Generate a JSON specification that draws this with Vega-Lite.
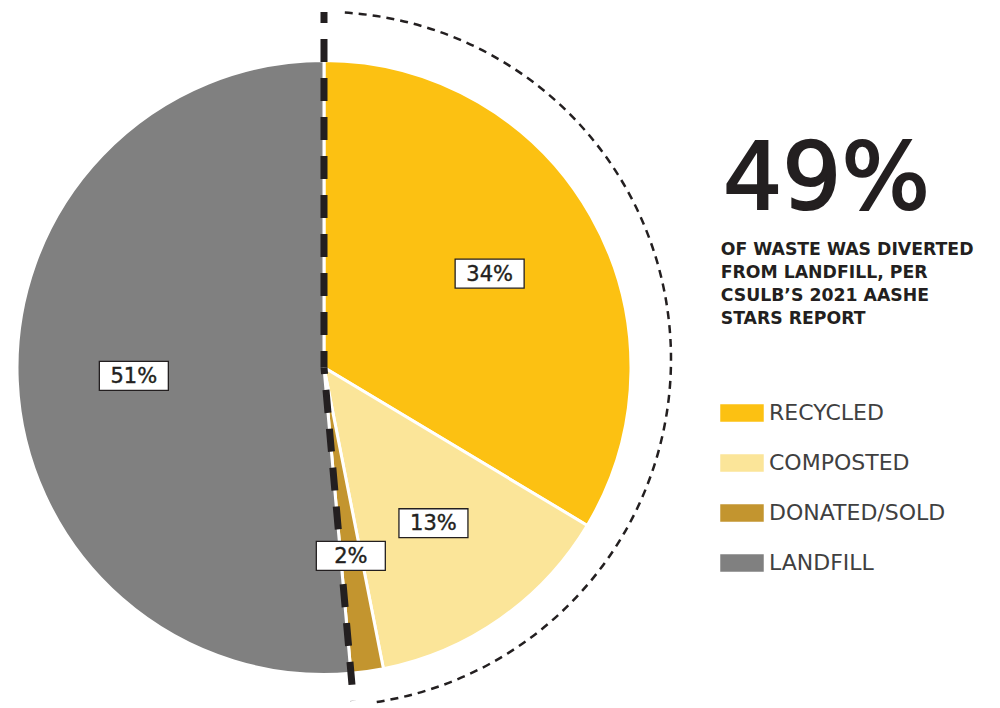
{
  "$schema": "https://vega.github.io/schema/vega-lite/v6.json",
  "width": 1000,
  "height": 708,
  "padding": 0,
  "autosize": "none",
  "background": "white",
  "config": {"view": {"stroke": null}, "font": "DejaVu Sans"},
  "data": {
    "values": [
      {"category": "RECYCLED", "pct": 33.6, "order": 1, "stream": "Diverted"},
      {"category": "COMPOSTED", "pct": 13.3, "order": 2, "stream": "Diverted"},
      {"category": "DONATED/SOLD", "pct": 1.7, "order": 3, "stream": "Diverted"},
      {"category": "LANDFILL", "pct": 51.4, "order": 4, "stream": "Landfill"}
    ]
  },
  "transform": [
    {"window": [{"op": "sum", "field": "pct", "as": "cum"}], "sort": [{"field": "order"}], "frame": [null, 0]},
    {"calculate": "datum.cum - datum.pct", "as": "start"},
    {"calculate": "datum.cum - datum.pct / 2", "as": "mid"}
  ],
  "layer": [
    {
      "mark": {"type": "arc", "outerRadius": 307, "stroke": "white", "strokeWidth": 3},
      "encoding": {
        "x": {"datum": 0, "type": "quantitative", "scale": {"domain": [-1.05537, 2.20195], "nice": false, "zero": false}, "axis": null},
        "y": {"datum": 0, "type": "quantitative", "scale": {"domain": [-1.10912, 1.19707], "nice": false, "zero": false}, "axis": null},
        "theta": {"field": "start", "type": "quantitative", "scale": {"domain": [0, 100]}},
        "theta2": {"field": "cum"},
        "color": {
          "field": "category",
          "type": "nominal",
          "scale": {
            "domain": ["RECYCLED", "COMPOSTED", "DONATED/SOLD", "LANDFILL"],
            "range": ["#FCC112", "#FBE599", "#C3952F", "#808080"]
          },
          "legend": {
            "orient": "none",
            "legendX": 720,
            "legendY": 391,
            "title": null,
            "symbolType": "M-1,-0.4H1V0.4H-1Z",
            "symbolSize": 1892,
            "symbolStrokeWidth": 0,
            "symbolOpacity": 1,
            "labelFont": "DejaVu Sans",
            "labelFontSize": 22,
            "labelColor": "#404040",
            "labelOffset": 5,
            "rowPadding": 17,
            "labelLimit": 300
          }
        }
      }
    },
    {
      "transform": [
        {"filter": "datum.stream === 'Diverted'"},
        {"aggregate": [{"op": "min", "field": "start", "as": "s0"}, {"op": "max", "field": "cum", "as": "s1"}]}
      ],
      "mark": {
        "type": "arc",
        "outerRadius": 347,
        "innerRadius": 0,
        "padAngle": 0.12,
        "fill": "white",
        "fillOpacity": 0,
        "stroke": "#231f20",
        "strokeWidth": 2.5,
        "strokeDash": [
          8,6,8,6,8,6,8,6,8,6,8,6,8,6,8,6,8,6,8,6,8,6,8,6,
          8,6,8,6,8,6,8,6,8,6,8,6,8,6,8,6,8,6,8,6,8,6,8,6,
          8,6,8,6,8,6,8,6,8,6,8,6,8,6,8,6,8,6,8,6,8,6,8,6,
          8,6,8,6,8,6,8,6,8,6,8,6,8,6,8,6,8,6,8,6,8,6,8,6,
          8,6,8,6,8,6,8,6,8,6,8,6,8,6,8,6,8,6,8,6,8,6,8,6,
          8,6,8,6,8,6,8,6,8,6,8,6,8,6,8,6,8,6,8,6,8,6,8,6,
          8,3000
        ]
      },
      "encoding": {
        "x": {"datum": 0, "type": "quantitative", "scale": {"domain": [-1.05537, 2.20195], "nice": false, "zero": false}, "axis": null},
        "y": {"datum": 0.0277, "type": "quantitative", "scale": {"domain": [-1.10912, 1.19707], "nice": false, "zero": false}, "axis": null},
        "theta": {"field": "s0", "type": "quantitative", "scale": {"domain": [0, 100]}},
        "theta2": {"field": "s1"}
      }
    },
    {
      "transform": [
        {"filter": "datum.stream === 'Landfill'"},
        {"calculate": "0", "as": "cx"},
        {"calculate": "1.158 * sin(2 * PI * datum.cum / 100)", "as": "tx"},
        {"calculate": "1.158 * cos(2 * PI * datum.cum / 100)", "as": "ty"},
        {"calculate": "1.09 * sin(2 * PI * datum.start / 100)", "as": "bx"},
        {"calculate": "1.09 * cos(2 * PI * datum.start / 100)", "as": "by"}
      ],
      "layer": [
        {
          "mark": {"type": "rule", "stroke": "#231f20", "strokeWidth": 7, "strokeDash": [23, 16], "strokeDashOffset": 12},
          "encoding": {
            "x": {"field": "tx", "type": "quantitative", "scale": {"domain": [-1.05537, 2.20195], "nice": false, "zero": false}, "axis": null},
            "y": {"field": "ty", "type": "quantitative", "scale": {"domain": [-1.10912, 1.19707], "nice": false, "zero": false}, "axis": null},
            "x2": {"field": "cx"},
            "y2": {"field": "cx"}
          }
        },
        {
          "mark": {"type": "rule", "stroke": "#231f20", "strokeWidth": 7, "strokeDash": [23, 16], "strokeDashOffset": 16.5},
          "encoding": {
            "x": {"field": "cx", "type": "quantitative", "scale": {"domain": [-1.05537, 2.20195], "nice": false, "zero": false}, "axis": null},
            "y": {"field": "cx", "type": "quantitative", "scale": {"domain": [-1.10912, 1.19707], "nice": false, "zero": false}, "axis": null},
            "x2": {"field": "bx"},
            "y2": {"field": "by"}
          }
        }
      ]
    },
    {
      "transform": [
        {"calculate": "0.62 * sin(2 * PI * datum.mid / 100)", "as": "lx"},
        {"calculate": "0.62 * cos(2 * PI * datum.mid / 100)", "as": "ly"},
        {"calculate": "format(datum.pct, '.0f') + '%'", "as": "lab"}
      ],
      "layer": [
        {
          "mark": {"type": "point", "shape": "M-1,-0.42H1V0.42H-1Z", "size": 4761, "filled": true, "fill": "white", "stroke": "#231f20", "strokeWidth": 1.3, "opacity": 1},
          "encoding": {
            "x": {"field": "lx", "type": "quantitative", "scale": {"domain": [-1.05537, 2.20195], "nice": false, "zero": false}, "axis": null},
            "y": {"field": "ly", "type": "quantitative", "scale": {"domain": [-1.10912, 1.19707], "nice": false, "zero": false}, "axis": null}
          }
        },
        {
          "mark": {"type": "text", "font": "DejaVu Sans", "fontSize": 21, "fill": "#231f20", "stroke": "#231f20", "strokeWidth": 0.4, "align": "center", "baseline": "middle", "dy": 1},
          "encoding": {
            "x": {"field": "lx", "type": "quantitative", "scale": {"domain": [-1.05537, 2.20195], "nice": false, "zero": false}, "axis": null},
            "y": {"field": "ly", "type": "quantitative", "scale": {"domain": [-1.10912, 1.19707], "nice": false, "zero": false}, "axis": null},
            "text": {"field": "lab"}
          }
        }
      ]
    },
    {
      "transform": [
        {"filter": "datum.stream === 'Diverted'"},
        {"aggregate": [{"op": "sum", "field": "pct", "as": "div"}]},
        {"calculate": "format(datum.div / 100, '.0%')", "as": "big"}
      ],
      "layer": [
        {
          "mark": {"type": "text", "font": "DejaVu Sans", "fontSize": 93, "fill": "#231f20", "stroke": "#231f20", "strokeWidth": 2.2, "align": "left", "baseline": "alphabetic"},
          "encoding": {
            "x": {"datum": 1.3, "type": "quantitative", "scale": {"domain": [-1.05537, 2.20195], "nice": false, "zero": false}, "axis": null},
            "y": {"datum": 0.5163, "type": "quantitative", "scale": {"domain": [-1.10912, 1.19707], "nice": false, "zero": false}, "axis": null},
            "text": {"field": "big"}
          }
        },
        {
          "mark": {"type": "text", "font": "DejaVu Sans", "fontSize": 17.3, "fontWeight": "bold", "fill": "#231f20", "align": "left", "baseline": "alphabetic", "lineHeight": 23},
          "encoding": {
            "x": {"datum": 1.2922, "type": "quantitative", "scale": {"domain": [-1.05537, 2.20195], "nice": false, "zero": false}, "axis": null},
            "y": {"datum": 0.3664, "type": "quantitative", "scale": {"domain": [-1.10912, 1.19707], "nice": false, "zero": false}, "axis": null},
            "text": {"value": ["OF WASTE WAS DIVERTED", "FROM LANDFILL, PER", "CSULB’S 2021 AASHE", "STARS REPORT"]}
          }
        }
      ]
    }
  ]
}
